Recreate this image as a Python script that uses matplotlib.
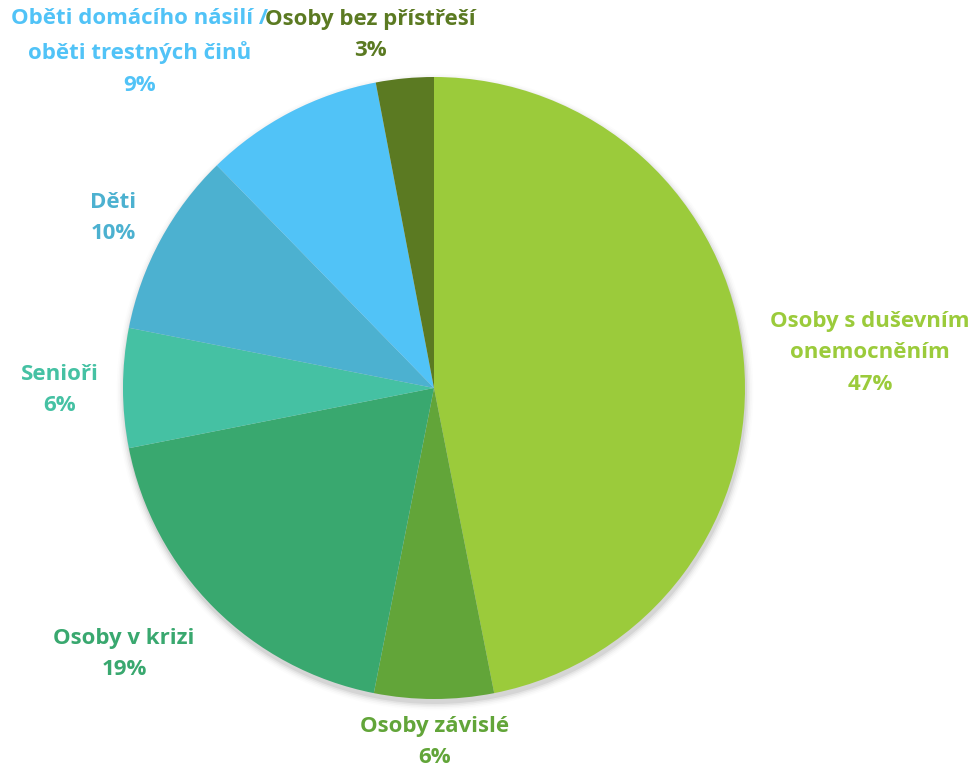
import matplotlib
matplotlib.use("Agg")
import matplotlib.pyplot as plt
from matplotlib.patches import Circle

categories = ["Osoby s duševním\nonemocněním", "Osoby závislé", "Osoby v krizi",
              "Senioři", "Děti", "Oběti domácího násilí /\noběti trestných činů",
              "Osoby bez přístřeší"]
values = [46.9, 6.2, 18.8, 6.2, 9.6, 9.3, 3.0]
colors = ["#9BCB3B", "#62A539", "#39A86F", "#45C1A3", "#4CB1D0", "#51C3F7", "#5B7A22"]

# label layout (pixel coordinates, y from top)
label_pos = [(870, 353), (435, 742), (124, 654), (60, 390), (113, 218), (140, 52), (370, 35)]

W, H = 974, 770
fig = plt.figure(figsize=(W / 100, H / 100), dpi=100)
ax = fig.add_axes([0, 0, 1, 1])

cx, cy, r = 434, H - 388, 311

# soft shadow
for i, a in enumerate([0.06, 0.045, 0.03, 0.02, 0.012]):
    ax.add_patch(Circle((cx + 1, cy - 4), r + 1 + i * 1.6, color="#000000", alpha=a, lw=0, zorder=0))

ax.pie(values, colors=colors, startangle=90, counterclock=False, center=(cx, cy), radius=r,
       wedgeprops=dict(linewidth=0), frame=True)
ax.set_xlim(0, W)
ax.set_ylim(0, H)
ax.set_aspect("equal")
ax.axis("off")

for cat, v, c, (px, py) in zip(categories, values, colors, label_pos):
    ax.text(px, H - py, f"{cat}\n{round(v):d}%", color=c, ha="center", va="center",
            fontsize=16, fontweight="bold", family="Open Sans", linespacing=1.68, zorder=5)

fig.savefig("out.png", dpi=100)
